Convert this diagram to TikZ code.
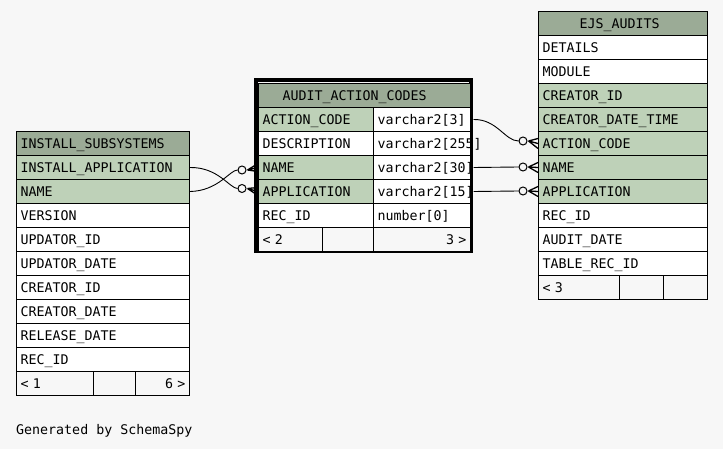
\documentclass[tikz,border=0pt]{standalone}
\usepackage{fontspec}
\newfontfamily\tabfont{DejaVu Sans Mono}
\definecolor{bgc}{HTML}{F7F7F7}
\definecolor{hdrc}{HTML}{9BAB96}
\definecolor{keyc}{HTML}{BED1B8}
\tikzset{
  cell/.style={draw=black, line width=1pt, inner xsep=4pt, inner ysep=0pt,
    minimum height=24pt, anchor=north west, align=left,
    font=\tabfont\fontsize{13.3pt}{15pt}\selectfont,
    text height=9.7pt, text depth=0pt},
  hdr/.style={cell, fill=hdrc},
  key/.style={cell, fill=keyc},
  plain/.style={cell, fill=white},
  foot/.style={cell, fill=bgc},
  rcell/.style={align=right},
  istab/.style={text width=165pt},
  ejtab/.style={text width=161pt},
  aacone/.style={text width=107pt},
  aactwo/.style={text width=89pt},
  rel/.style={draw=black, line width=0.9pt},
  crowft/.style={draw=black, line width=1.3pt},
  optc/.style={circle, draw=black, line width=1pt, minimum size=8pt, inner sep=0pt, fill=none},
  thickbd/.style={draw=black, line width=4pt}
}
\begin{document}
\begin{tikzpicture}[x=1pt,y=-1pt]
\useasboundingbox[fill=bgc] (0,0) rectangle (723,449);

% INSTALL_SUBSYSTEMS
\node[hdr, istab] (is-h) at (16,131) {INSTALL\_SUBSYSTEMS};
\node[key, istab] (is-app) at (16,155) {INSTALL\_APPLICATION};
\node[key, istab] (is-name) at (16,179) {NAME};
\node[plain, istab] (is-ver) at (16,203) {VERSION};
\node[plain, istab] (is-uid) at (16,227) {UPDATOR\_ID};
\node[plain, istab] (is-udt) at (16,251) {UPDATOR\_DATE};
\node[plain, istab] (is-cid) at (16,275) {CREATOR\_ID};
\node[plain, istab] (is-cdt) at (16,299) {CREATOR\_DATE};
\node[plain, istab] (is-rdt) at (16,323) {RELEASE\_DATE};
\node[plain, istab] (is-rec) at (16,347) {REC\_ID};
\node[foot, text width=69pt] (is-f1) at (16,371) {< 1};
\node[foot, text width=34pt] (is-f2) at (93,371) {};
\node[foot, rcell, text width=46pt] (is-f3) at (135,371) {6 >};

% AUDIT_ACTION_CODES (thick frame first, cells and texts over it)
\draw[thickbd] (255.5,80.5) rectangle (470.5,251.5);
\node[hdr, text width=204pt] (aac-h) at (258,83) {\hspace*{20pt}AUDIT\_ACTION\_CODES};
\node[key, aacone] (aac-code) at (258,107) {ACTION\_CODE};
\node[plain, aactwo] (aac-code-t) at (373,107) {\mbox{varchar2[3]}};
\node[plain, aacone] (aac-desc) at (258,131) {DESCRIPTION};
\node[plain, aactwo] (aac-desc-t) at (373,131) {\mbox{varchar2[255]}};
\node[key, aacone] (aac-name) at (258,155) {NAME};
\node[plain, aactwo] (aac-name-t) at (373,155) {\mbox{varchar2[30]}};
\node[key, aacone] (aac-app) at (258,179) {APPLICATION};
\node[plain, aactwo] (aac-app-t) at (373,179) {\mbox{varchar2[15]}};
\node[plain, aacone] (aac-rec) at (258,203) {REC\_ID};
\node[plain, aactwo] (aac-rec-t) at (373,203) {\mbox{number[0]}};
\node[foot, text width=56pt] (aac-f1) at (258,227) {< 2};
\node[foot, text width=43pt] (aac-f2) at (322,227) {};
\node[foot, rcell, text width=89pt] (aac-f3) at (373,227) {3 >};

% EJS_AUDITS
\node[hdr, ejtab] (ej-h) at (538,11) {\hspace*{37pt}EJS\_AUDITS};
\node[plain, ejtab] (ej-det) at (538,35) {DETAILS};
\node[plain, ejtab] (ej-mod) at (538,59) {MODULE};
\node[key, ejtab] (ej-cid) at (538,83) {CREATOR\_ID};
\node[key, ejtab] (ej-cdt) at (538,107) {CREATOR\_DATE\_TIME};
\node[key, ejtab] (ej-code) at (538,131) {ACTION\_CODE};
\node[key, ejtab] (ej-name) at (538,155) {NAME};
\node[key, ejtab] (ej-app) at (538,179) {APPLICATION};
\node[plain, ejtab] (ej-rec) at (538,203) {REC\_ID};
\node[plain, ejtab] (ej-adt) at (538,227) {AUDIT\_DATE};
\node[plain, ejtab] (ej-trec) at (538,251) {TABLE\_REC\_ID};
\node[foot, text width=73pt] (ej-f1) at (538,275) {< 3};
\node[foot, text width=36pt] (ej-f2) at (619,275) {};
\node[foot, text width=36pt] (ej-f3) at (663,275) {};

% optional circles
\node[optc] (o-aname) at (242,170) {};
\node[optc] (o-aapp) at (242,188.5) {};
\node[optc] (o-ecode) at (523,141) {};
\node[optc] (o-ename) at (523,167) {};
\node[optc] (o-eapp) at (523,191) {};

% connectors
\draw[rel] (is-app.east) .. controls (218,167) and (230,188.5) .. (o-aapp.west);
\draw[rel] (is-name.east) .. controls (218,191) and (230,170) .. (o-aname.west);
\draw[rel] ([xshift=2.5pt]aac-code-t.east) .. controls (497,119) and (505,141) .. (o-ecode.west);
\draw[rel] ([xshift=2.5pt]aac-name-t.east) -- (o-ename.west);
\draw[rel] ([xshift=2.5pt]aac-app-t.east) -- (o-eapp.west);

% crow's feet
\foreach \o/\t in {o-aname/aac-name, o-aapp/aac-app}{
  \draw[crowft] ([xshift=1pt]\o.east) -- ([yshift=4pt]\t.west)
                ([xshift=1pt]\o.east) -- (\t.west)
                ([xshift=1pt]\o.east) -- ([yshift=-4pt]\t.west);
}
\foreach \o/\t in {o-ecode/ej-code, o-ename/ej-name, o-eapp/ej-app}{
  \draw[crowft] ([xshift=1pt]\o.east) -- ([yshift=5pt]\t.west)
                ([xshift=1pt]\o.east) -- (\t.west)
                ([xshift=1pt]\o.east) -- ([yshift=-5pt]\t.west);
}

\node[anchor=base west, inner sep=0pt, font=\tabfont\fontsize{13.3pt}{15pt}\selectfont] (gen) at (16,434) {Generated by SchemaSpy};
\end{tikzpicture}
\end{document}
